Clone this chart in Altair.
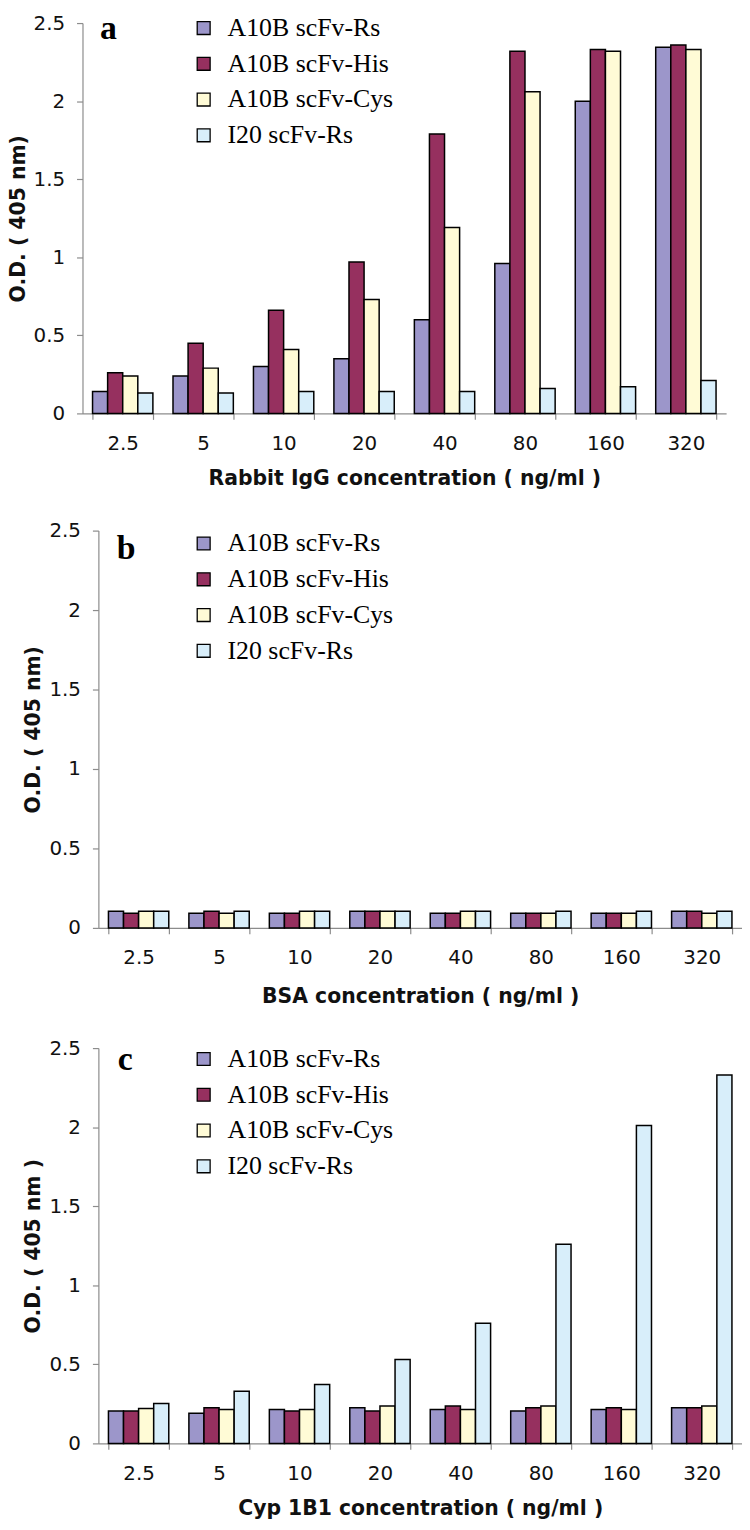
import altair as alt
import pandas as pd

concs = ["2.5", "5", "10", "20", "40", "80", "160", "320"]
series = ["A10B scFv-Rs", "A10B scFv-His", "A10B scFv-Cys", "I20 scFv-Rs"]
colors = ["#9C96CA", "#96305F", "#FFFBD6", "#D8EEFA"]

# Panel a: Rabbit IgG
a_rs = [0.14, 0.24, 0.30, 0.35, 0.60, 0.96, 2.00, 2.345]
a_his = [0.26, 0.45, 0.66, 0.97, 1.79, 2.32, 2.33, 2.36]
a_cys = [0.24, 0.29, 0.41, 0.73, 1.19, 2.06, 2.32, 2.33]
a_i20 = [0.13, 0.13, 0.14, 0.14, 0.14, 0.16, 0.17, 0.21]

# Panel b: BSA
b_rs = [0.105, 0.092, 0.092, 0.105, 0.092, 0.092, 0.092, 0.105]
b_his = [0.092, 0.105, 0.092, 0.105, 0.092, 0.092, 0.092, 0.105]
b_cys = [0.105, 0.092, 0.105, 0.105, 0.105, 0.092, 0.092, 0.092]
b_i20 = [0.105, 0.105, 0.105, 0.105, 0.105, 0.105, 0.105, 0.105]

# Panel c: Cyp 1B1
c_rs = [0.205, 0.19, 0.215, 0.226, 0.215, 0.205, 0.215, 0.226]
c_his = [0.205, 0.226, 0.205, 0.205, 0.236, 0.226, 0.226, 0.226]
c_cys = [0.22, 0.215, 0.215, 0.236, 0.215, 0.236, 0.215, 0.236]
c_i20 = [0.253, 0.33, 0.373, 0.53, 0.76, 1.26, 2.01, 2.33]

ticks_y = [0, 0.5, 1, 1.5, 2, 2.5]


def long_df(cols):
    rows = []
    for s, vals in zip(series, cols):
        for c, v in zip(concs, vals):
            rows.append({"conc": c, "series": s, "od": v})
    return pd.DataFrame(rows)


def panel(cols, xtitle, ytitle, letter, height, shift, xtp, lx, ly, tx, ty):
    df = long_df(cols)
    w = 648 + shift
    xscale = alt.Scale(paddingInner=0.25, paddingOuter=0.125)
    yaxis_kw = dict(title=ytitle, values=ticks_y, format="~g",
                    labelPadding=12, titlePadding=5)
    if shift:
        xscale = alt.Scale(paddingInner=0.25, paddingOuter=0.125,
                           range=[shift, w])
        yaxis_kw["offset"] = -shift
    bars = alt.Chart(df).mark_bar(stroke="black", strokeWidth=1.5).encode(
        x=alt.X("conc:N", sort=concs, scale=xscale,
                axis=alt.Axis(title=xtitle, labelAngle=0, tickBand="extent",
                              labelPadding=14, titlePadding=xtp)),
        xOffset=alt.XOffset("series:N", sort=series),
        y=alt.Y("od:Q", scale=alt.Scale(domain=[0, 2.5], nice=False),
                axis=alt.Axis(**yaxis_kw)),
        color=alt.Color("series:N", sort=series,
                        scale=alt.Scale(domain=series, range=colors),
                        legend=alt.Legend(orient="none", legendX=lx, legendY=ly,
                                          title=None, symbolType="square",
                                          symbolSize=169, symbolStrokeColor="black",
                                          symbolStrokeWidth=1.3,
                                          symbolOpacity=1,
                                          labelFont="Liberation Serif",
                                          labelFontSize=26, labelColor="black",
                                          labelLimit=400,
                                          rowPadding=10, labelOffset=11,
                                          padding=0)),
    )
    lab = alt.Chart(pd.DataFrame({"t": [letter]})).mark_text(
        font="Liberation Serif", fontSize=34, fontWeight="bold",
        align="center", baseline="alphabetic", color="black", clip=True
    ).encode(text="t:N", x=alt.value(tx), y=alt.value(ty))
    return alt.layer(bars, lab).properties(width=w, height=height)


pa = panel([a_rs, a_his, a_cys, a_i20], "Rabbit IgG concentration ( ng/ml )",
           "O.D. ( 405 nm)", "a", 393, 0, 16, 109, -8, 26, 16)
pb = panel([b_rs, b_his, b_cys, b_i20], "BSA concentration ( ng/ml )",
           "O.D. ( 405 nm)", "b", 400, 16, 19, 109, 0, 44, 29)
pc = panel([c_rs, c_his, c_cys, c_i20], "Cyp 1B1 concentration ( ng/ml )",
           "O.D. ( 405 nm )", "c", 398, 16, 16, 109, -2, 43, 22)

chart = alt.vconcat(pa, pb, pc, spacing=31).resolve_scale(
    color="independent").properties(padding=0).configure_view(
    stroke=None).configure_axis(
    grid=False, domainColor="#8C8C8C", tickColor="#8C8C8C", tickSize=6,
    domainWidth=1.2, tickWidth=1.2,
    labelFont="DejaVu Sans", labelFontSize=20, labelColor="#111",
    titleFont="DejaVu Sans", titleFontSize=20.5, titleFontWeight="bold",
    titleColor="#111")

chart.save("out.html", embed_options={"renderer": "svg", "actions": False})
